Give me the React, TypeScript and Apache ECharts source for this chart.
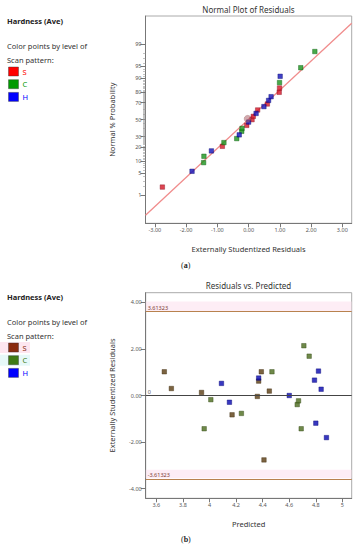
import React, { useEffect, useRef } from "react";
import * as echarts from "echarts";

// ---- Panel (a): Normal plot of residuals (residual, normal % probability) ----
const normSResid = [-2.76, -0.84, -0.06, 0.11, 0.15, 0.29, 0.6, 0.98, 0.99];
const normSPct = [1.9, 20.6, 43, 50, 54, 61.7, 68.5, 80, 83.5];
const normCResid = [-1.44, -1.43, -0.79, -0.38, -0.22, -0.21, 0.99, 1.67, 2.12];
const normCPct = [9.3, 13, 24, 28, 36, 39.4, 87.3, 94.5, 98.2];
const normHResid = [-1.81, -1.19, -0.3, 0.0, 0.24, 0.49, 0.64, 0.72, 1.01];
const normHPct = [5.6, 16.8, 32, 47, 57.6, 65.6, 72.3, 76, 90.9];
const highlightResid = [-0.03];
const highlightPct = [51];
const refLineResid = [-3.3, 3.3];
const refLinePct = [0.164, 99.85];
const majorPctTicks = [1, 5, 10, 20, 30, 50, 70, 80, 90, 95, 99];
const residTicks = [-3, -2, -1, 0, 1, 2, 3];

// ---- Panel (b): Residuals vs predicted ----
const predS = [3.66, 3.713, 3.94, 4.17, 4.36, 4.37, 4.39, 4.45, 4.41];
const residS = [1.02, 0.3, 0.13, -0.83, -0.04, 0.62, 1.02, 0.19, -2.77];
const predC = [4.01, 4.24, 4.47, 4.66, 4.67, 4.71, 4.75, 3.96, 4.69];
const residC = [-0.18, -0.77, 1.02, -0.39, -0.23, 2.14, 1.69, -1.43, -1.43];
const predH = [4.09, 4.15, 4.37, 4.6, 4.79, 4.82, 4.84, 4.8, 4.88];
const residH = [0.52, -0.29, 0.75, 0.0, 0.66, 1.05, 0.27, -1.19, -1.81];
const limitValue = 3.61323;
const predTicks = [3.6, 3.8, 4.0, 4.2, 4.4, 4.6, 4.8, 5.0];
const residTicksB = [-4, -2, 0, 2, 4];

const FONT = "'Noto Sans', 'Open Sans', sans-serif";

// inverse standard normal CDF (Acklam) for the probability axis scale
function probit(p: number): number {
  const a = [-39.69683028665376, 220.9460984245205, -275.9285104469687, 138.357751867269, -30.66479806614716, 2.506628277459239];
  const b = [-54.47609879822406, 161.5858368580409, -155.6989798598866, 66.80131188771972, -13.28068155288572];
  const c = [-0.007784894002430293, -0.3223964580411365, -2.400758277161838, -2.549732539343734, 4.374664141464968, 2.938163982698783];
  const d = [0.007784695709041462, 0.3224671290700398, 2.445134137142996, 3.754408661907416];
  const pl = 0.02425;
  let q, r;
  if (p < pl) {
    q = Math.sqrt(-2 * Math.log(p));
    return (((((c[0] * q + c[1]) * q + c[2]) * q + c[3]) * q + c[4]) * q + c[5]) / ((((d[0] * q + d[1]) * q + d[2]) * q + d[3]) * q + 1);
  } else if (p <= 1 - pl) {
    q = p - 0.5;
    r = q * q;
    return ((((((a[0] * r + a[1]) * r + a[2]) * r + a[3]) * r + a[4]) * r + a[5]) * q) / (((((b[0] * r + b[1]) * r + b[2]) * r + b[3]) * r + b[4]) * r + 1);
  } else {
    q = Math.sqrt(-2 * Math.log(1 - p));
    return -(((((c[0] * q + c[1]) * q + c[2]) * q + c[3]) * q + c[4]) * q + c[5]) / ((((d[0] * q + d[1]) * q + d[2]) * q + d[3]) * q + 1);
  }
}

const zip = (xs: number[], ps: number[]) => xs.map((x, i) => [x, probit(ps[i] / 100)]);
const zipXY = (xs: number[], ys: number[]) => xs.map((x, i) => [x, ys[i]]);

const majorZ = majorPctTicks.map((p) => probit(p / 100));
const minorZ: number[] = [];
for (let p = 1; p <= 99; p++) if (!majorPctTicks.includes(p)) minorZ.push(probit(p / 100));

const tickLabel = { fontSize: 5.5, color: "#555", fontFamily: FONT };
const nameStyle = { fontSize: 7.5, color: "#333", fontFamily: FONT };

function legend(top: number, colors: string[], bgs: (string | null)[]) {
  const items: any[] = [
    { type: "text", left: 7, top: top, style: { text: "Hardness (Ave)", font: `bold 7.5px ${FONT}`, fill: "#222" } },
    { type: "text", left: 7, top: top + 25, style: { text: "Color points by level of", font: `7.5px ${FONT}`, fill: "#333" } },
    { type: "text", left: 7, top: top + 38.5, style: { text: "Scan pattern:", font: `7.5px ${FONT}`, fill: "#333" } },
  ];
  const labels = ["S", "C", "H"];
  labels.forEach((l, i) => {
    const y = top + 50 + i * 12.7;
    if (bgs[i]) items.push({ type: "rect", shape: { x: 0, y: y - 1, width: 30, height: 11 }, style: { fill: bgs[i] } });
    items.push({ type: "rect", shape: { x: 8.5, y: y, width: 10, height: 9 }, style: { fill: colors[i], stroke: "#333", lineWidth: 0.4 } });
    items.push({ type: "text", left: 22.5, top: y + 0.5, style: { text: l, font: `7.5px ${FONT}`, fill: colors[i] } });
  });
  return items;
}

export default function App() {
  const ref = useRef<HTMLDivElement>(null);
  useEffect(() => {
    if (!ref.current) return;
    const chart = echarts.init(ref.current, undefined, { renderer: "svg" });
    const sq = (color: string, border: string) => ({
      type: "scatter" as const,
      symbol: "rect",
      symbolSize: 4.5,
      itemStyle: { color, borderColor: border, borderWidth: 0.5 },
    });
    const titleStyle = { fontSize: 8, fontWeight: "normal" as const, color: "#333", fontFamily: FONT };
    chart.setOption({
      animation: false,
      backgroundColor: "#fff",
      title: [
        { text: "Normal Plot of Residuals", left: 248.5, top: 5, padding: 0, textAlign: "center", textStyle: titleStyle },
        { text: "Residuals vs. Predicted", left: 248.5, top: 281, padding: 0, textAlign: "center", textStyle: titleStyle },
      ],
      grid: [
        { left: 145.5, right: 6.3, top: 16, height: 207.3, show: true, borderColor: "#aaa", borderWidth: 1, containLabel: false },
        { left: 145.7, right: 6.3, top: 292.7, height: 205.6, show: true, borderColor: "#aaa", borderWidth: 1, containLabel: false },
      ],
      xAxis: [
        {
          type: "value", gridIndex: 0, min: -3.3, max: 3.3,
          name: "Externally Studentized Residuals", nameLocation: "middle", nameGap: 22, nameTextStyle: nameStyle,
          axisLine: { onZero: false, lineStyle: { color: "#777" } },
          axisTick: { customValues: residTicks, length: 4, lineStyle: { color: "#777" } },
          axisLabel: { customValues: residTicks, formatter: (v: number) => v.toFixed(2), margin: 4, ...tickLabel },
          splitLine: { show: false },
        },
        {
          type: "value", gridIndex: 1, min: 3.52, max: 5.07,
          name: "Predicted", nameLocation: "middle", nameGap: 22, nameTextStyle: nameStyle,
          axisLine: { onZero: false, lineStyle: { color: "#777" } },
          axisTick: { customValues: predTicks, length: 4, lineStyle: { color: "#777" } },
          axisLabel: { customValues: predTicks, formatter: (v: number) => String(Math.round(v * 10) / 10), margin: 4, ...tickLabel },
          splitLine: { show: false },
        },
      ],
      yAxis: [
        {
          type: "value", gridIndex: 0, min: -3.19, max: 3.19,
          name: "Normal % Probability", nameLocation: "middle", nameGap: 30, nameTextStyle: nameStyle,
          axisLine: { show: true, onZero: false, lineStyle: { color: "#777" } },
          axisTick: { show: true, customValues: majorZ, length: 5, lineStyle: { color: "#777" } },
          axisLabel: {
            customValues: majorZ, margin: 4, ...tickLabel,
            formatter: (v: number) => {
              const i = majorZ.findIndex((z) => Math.abs(z - v) < 1e-6);
              return i >= 0 ? String(majorPctTicks[i]) : "";
            },
          },
          splitLine: { show: false },
        },
        {
          type: "value", gridIndex: 0, min: -3.19, max: 3.19, position: "left",
          axisLine: { show: false, onZero: false },
          axisTick: { show: true, customValues: minorZ, length: 2.5, lineStyle: { color: "#999", width: 0.6 } },
          axisLabel: { show: false },
          splitLine: { show: false },
        },
        {
          type: "value", gridIndex: 1, min: -4.42, max: 4.42,
          name: "Externally Studentized Residuals", nameLocation: "middle", nameGap: 30, nameTextStyle: nameStyle,
          axisLine: { show: true, onZero: false, lineStyle: { color: "#777" } },
          axisTick: { show: true, customValues: residTicksB, length: 5, lineStyle: { color: "#777" } },
          axisLabel: { customValues: residTicksB, formatter: (v: number) => v.toFixed(2), margin: 4, ...tickLabel },
          splitLine: { show: false },
        },
      ],
      series: [
        {
          type: "line", xAxisIndex: 0, yAxisIndex: 0, data: zip(refLineResid, refLinePct),
          symbol: "none", lineStyle: { color: "#f08c8c", width: 1.3 }, silent: true, z: 1,
        },
        { ...sq("#d41526", "#8a1020"), xAxisIndex: 0, yAxisIndex: 0, data: zip(normSResid, normSPct), z: 3 },
        { ...sq("#19931c", "#0d5a10"), xAxisIndex: 0, yAxisIndex: 0, data: zip(normCResid, normCPct), z: 3 },
        { ...sq("#1212b8", "#080870"), xAxisIndex: 0, yAxisIndex: 0, data: zip(normHResid, normHPct), z: 3 },
        {
          type: "scatter", xAxisIndex: 0, yAxisIndex: 0, data: zip(highlightResid, highlightPct), symbol: "circle", symbolSize: 7,
          itemStyle: { color: "rgba(170,90,100,0.65)", borderColor: "rgba(120,60,60,0.6)", borderWidth: 0.5 }, z: 4,
        },
        {
          ...sq("#5a3c12", "#3a2608"), xAxisIndex: 1, yAxisIndex: 2, data: zipXY(predS, residS), z: 3,
          markArea: {
            silent: true,
            itemStyle: { color: "rgba(252,222,236,0.55)" },
            data: [
              [{ yAxis: limitValue }, { yAxis: limitValue + 0.43 }],
              [{ yAxis: -limitValue + 0.06 }, { yAxis: -limitValue + 0.42 }],
            ],
          },
          markLine: {
            silent: true, symbol: "none",
            label: { position: "insideStartTop", fontSize: 5.5, fontFamily: FONT, distance: [2, 1] },
            data: [
              { yAxis: limitValue, lineStyle: { color: "#b8824e", width: 1.2, type: "solid" }, label: { formatter: "3.61323", color: "#7a3a30" } },
              { yAxis: -limitValue, lineStyle: { color: "#b8824e", width: 1.2, type: "solid" }, label: { formatter: "-3.61323", color: "#7a3a30" } },
              { yAxis: 0, lineStyle: { color: "#444", width: 1.2, type: "solid" }, label: { formatter: "0", color: "#555" } },
            ],
          },
        },
        { ...sq("#4b6b1d", "#2e4410"), xAxisIndex: 1, yAxisIndex: 2, data: zipXY(predC, residC), z: 3 },
        { ...sq("#0606b0", "#030370"), xAxisIndex: 1, yAxisIndex: 2, data: zipXY(predH, residH), z: 3 },
      ],
      graphic: [
        ...legend(17, ["#ff0000", "#009a00", "#0000ff"], [null, null, null]),
        ...legend(293, ["#8b2c10", "#3f7a14", "#0000ff"], ["#fde6f0", "#e6f8f8", null]),
        {
          type: "text", left: 181, top: 261,
          style: { text: "{p|(}{b|a}{p|)}", rich: { p: { font: "8px 'Liberation Serif', serif", fill: "#222" }, b: { font: "bold 8px 'Liberation Serif', serif", fill: "#222" } } },
        },
        {
          type: "text", left: 181, top: 535,
          style: { text: "{p|(}{b|b}{p|)}", rich: { p: { font: "8px 'Liberation Serif', serif", fill: "#222" }, b: { font: "bold 8px 'Liberation Serif', serif", fill: "#222" } } },
        },
      ],
    });
    return () => chart.dispose();
  }, []);
  return <div ref={ref} style={{ position: "fixed", left: 0, top: 0, width: 358, height: 550 }} />;
}
